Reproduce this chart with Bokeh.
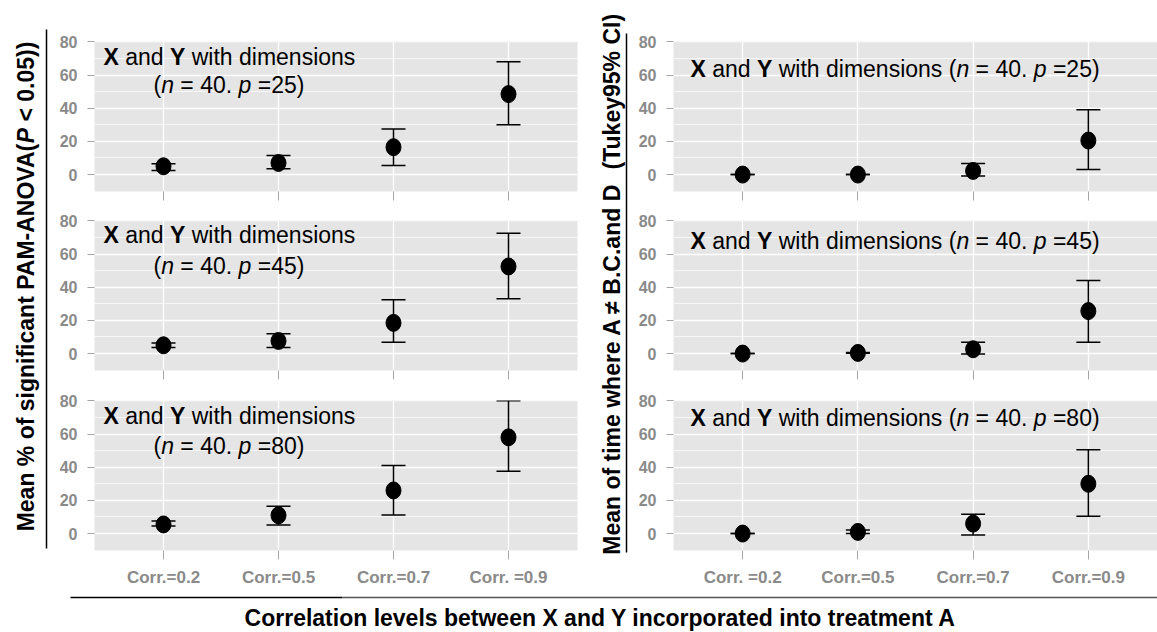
import math
from bokeh.plotting import figure
from bokeh.models import Range1d, FixedTicker, Label, ColumnDataSource, Whisker, TeeHead
from bokeh.layouts import row, column
from bokeh.core.properties import value
from bokeh.embed import file_html
from bokeh.resources import INLINE

FONT = "Liberation Sans"

# ---- data -------------------------------------------------------------
positions = [1, 2, 3, 4]
corr_left = ["Corr.=0.2", "Corr.=0.5", "Corr.=0.7", "Corr. =0.9"]
corr_right = ["Corr. =0.2", "Corr.=0.5", "Corr.=0.7", "Corr.=0.9"]
dims = ["25", "45", "80"]

# a) mean % of significant PAM-ANOVA, with 95% interval
pam_mean_p25 = [5.0, 7.0, 16.5, 48.5]
pam_low_p25 = [2.5, 3.5, 5.5, 30.0]
pam_high_p25 = [6.5, 11.5, 27.5, 68.0]

pam_mean_p45 = [5.0, 7.6, 18.5, 52.5]
pam_low_p45 = [3.6, 3.6, 6.8, 33.0]
pam_high_p45 = [6.4, 12.0, 32.4, 72.5]

pam_mean_p80 = [5.5, 11.0, 26.0, 58.0]
pam_low_p80 = [4.6, 5.2, 11.2, 37.5]
pam_high_p80 = [7.6, 16.5, 41.0, 80.0]

# b) mean of time where A differs from B, C and D (Tukey 95% CI)
tuk_mean_p25 = [0.0, 0.0, 2.2, 20.5]
tuk_low_p25 = [0.0, 0.0, -0.8, 3.0]
tuk_high_p25 = [0.0, 0.0, 6.6, 39.0]

tuk_mean_p45 = [0.0, 0.4, 2.6, 25.6]
tuk_low_p45 = [0.0, 0.2, -0.3, 6.8]
tuk_high_p45 = [0.0, 0.6, 6.8, 44.0]

tuk_mean_p80 = [0.0, 1.0, 6.0, 30.0]
tuk_low_p80 = [0.0, 0.0, -0.8, 10.5]
tuk_high_p80 = [0.0, 2.2, 11.7, 50.5]

# ---- glyph advance widths (Arial metrics, em units) -------------------
REG = {' ': .278, 'a': .556, 'n': .556, 'd': .556, 'w': .722, 'i': .222, 't': .278,
       'h': .556, 'm': .833, 'e': .556, 's': .5, 'o': .556, '(': .333, ')': .333,
       '=': .584, '.': .278, 'X': .667, 'Y': .667, 'p': .556}
BOLD = {' ': .278, 'a': .556, 'b': .611, 'c': .556, 'd': .611, 'e': .556, 'f': .333,
        'g': .611, 'h': .611, 'i': .278, 'k': .556, 'l': .278, 'm': .889, 'n': .611,
        'o': .611, 'p': .611, 'r': .389, 's': .556, 't': .333, 'u': .611, 'v': .556,
        'w': .778, 'y': .556, 'A': .722, 'B': .722, 'C': .722, 'D': .722, 'I': .278,
        'M': .833, 'N': .722, 'O': .778, 'P': .667, 'T': .611, 'V': .667, 'X': .667,
        'Y': .667, '%': .889, '(': .333, ')': .333, '-': .333, '.': .278, '<': .584,
        '\u2260': .584, '=': .584}


def run_layout(segs, size):
    """Split styled text into runs with pixel offsets along the text direction."""
    out, pos = [], 0.0
    for txt, weight, style, *nudge in segs:
        tbl = BOLD if weight == "bold" else REG
        lead = len(txt) - len(txt.lstrip(' '))
        core = txt.strip(' ')
        shift = nudge[0] if nudge else 0
        if core:
            out.append((core, weight, style, pos + lead * tbl[' '] * size + shift))
        pos += sum(tbl.get(c, .556) for c in txt) * size + shift
    return out, pos


def annotate(p, x0, y, segs, size=23, start=0):
    runs, _ = run_layout(segs, size)
    for core, weight, style, off in runs:
        src = ColumnDataSource(dict(x=[x0], y=[y], t=[core], xo=[start + off]))
        p.text(x="x", y="y", text="t", x_offset="xo", source=src,
               text_font=value(FONT), text_font_size=value(f"{size}px"),
               text_font_style=value(style if weight != "bold" else "bold"),
               text_color="black", text_align="left", text_baseline="middle")


def dim_segments(d, one_line):
    head = [("X", "bold", "bold"), (" and ", "normal", "normal"),
            ("Y", "bold", "bold"), (" with dimensions", "normal", "normal")]
    tail = [("(", "normal", "normal"), ("n", "normal", "italic"),
            (" = 40. ", "normal", "normal"), ("p", "normal", "italic"),
            (f" ={d})", "normal", "normal")]
    if one_line:
        return head + [(" ", "normal", "normal")] + tail, None
    return head, tail


def make_panel(width, height, top, bottom, left, right, means, lows, highs,
               tick_labels, show_labels):
    p = figure(width=width, height=height, x_range=Range1d(0.4, 4.6),
               y_range=Range1d(-10.2, 80.2), output_backend="svg",
               toolbar_location=None, min_border_top=top, min_border_bottom=bottom,
               min_border_left=left, min_border_right=right)
    p.background_fill_color = "#e5e5e5"
    p.border_fill_color = "white"
    p.outline_line_color = None

    yt = FixedTicker(ticks=[0, 20, 40, 60, 80], minor_ticks=[10, 30, 50, 70])
    yax = p.yaxis[0]
    yax.ticker = yt
    p.ygrid.ticker = yt
    yax.axis_line_color = None
    yax.major_tick_line_color = "#a6a6a6"
    yax.major_tick_out = 7
    yax.major_tick_in = 0
    yax.minor_tick_line_color = None
    yax.major_label_text_font = FONT
    yax.major_label_text_font_size = "16px"
    yax.major_label_text_font_style = "bold"
    yax.major_label_text_color = "#8a8a8a"
    yax.major_label_standoff = 10

    xax = p.xaxis[0]
    p.xgrid.ticker = FixedTicker(ticks=positions)
    xax.axis_line_color = None
    if show_labels:
        xax.ticker = FixedTicker(ticks=positions)
        xax.major_tick_line_color = "#a6a6a6"
        xax.major_tick_out = 9
        xax.major_tick_in = 0
        xax.minor_tick_line_color = None
        xax.major_label_overrides = {k: v for k, v in zip(positions, tick_labels)}
        xax.major_label_text_font = FONT
        xax.major_label_text_font_style = "bold"
        xax.major_label_text_color = "#8a8a8a"
        xax.major_label_text_font_size = "17px"
        xax.major_label_standoff = 8
    else:
        # tick marks only, no labels under the upper panels
        xax.ticker = FixedTicker(ticks=[], minor_ticks=positions)
        xax.minor_tick_line_color = "#a6a6a6"
        xax.minor_tick_out = 9
        xax.minor_tick_in = 0
        xax.major_tick_line_color = None

    p.xgrid.grid_line_color = "white"
    p.xgrid.grid_line_width = 1.3
    p.ygrid.grid_line_color = "white"
    p.ygrid.grid_line_width = 1.3
    p.ygrid.minor_grid_line_color = "white"
    p.ygrid.minor_grid_line_width = 0.7

    src = ColumnDataSource(dict(x=positions, m=means, lo=lows, hi=highs))
    head = dict(size=24, line_color="black", line_width=1.5)
    p.add_layout(Whisker(base="x", lower="lo", upper="hi", source=src,
                         dimension="height", line_color="black", line_width=1.5,
                         lower_head=TeeHead(**head), upper_head=TeeHead(**head)))
    p.ellipse(x="x", y="m", width=15, height=17, width_units="screen",
              height_units="screen", color="black", source=src)
    return p


# ---- panels -----------------------------------------------------------
borders = [(205, 41, 14), (180, 15, 15), (205, 15, 40)]
left_data = [(pam_mean_p25, pam_low_p25, pam_high_p25),
             (pam_mean_p45, pam_low_p45, pam_high_p45),
             (pam_mean_p80, pam_low_p80, pam_high_p80)]
right_data = [(tuk_mean_p25, tuk_low_p25, tuk_high_p25),
              (tuk_mean_p45, tuk_low_p45, tuk_high_p45),
              (tuk_mean_p80, tuk_low_p80, tuk_high_p80)]
left_text_y = [(70.6, 53.7), (71.2, 52.5), (71.0, 53.0)]
right_text_y = [63.9, 68.1, 69.4]

left_panels, right_panels = [], []
for i in range(3):
    h, top, bottom = borders[i]
    last = i == 2
    m, lo, hi = left_data[i]
    pl = make_panel(540, h, top, bottom, 44, 13, m, lo, hi, corr_left, last)
    l1, l2 = dim_segments(dims[i], False)
    annotate(pl, 0.4, left_text_y[i][0], l1, start=9)
    annotate(pl, 0.4, left_text_y[i][1], l2, start=59)
    left_panels.append(pl)

    m, lo, hi = right_data[i]
    pr = make_panel(527, h, top, bottom, 43, 0, m, lo, hi, corr_right, last)
    one, _ = dim_segments(dims[i], True)
    annotate(pr, 0.4, right_text_y[i], one, start=17)
    right_panels.append(pr)

for p, tag in ((left_panels[0], "a)"), (right_panels[0], "b)")):
    p.add_layout(Label(x=0.4, y=80.2, x_offset=10, y_offset=19, text=tag,
                       text_font=FONT, text_font_size="22px", text_font_style="bold",
                       text_color="black", text_align="left", text_baseline="middle"))


# ---- side titles ------------------------------------------------------
def side_figure(width, height):
    p = figure(width=width, height=height, x_range=Range1d(0, width),
               y_range=Range1d(0, height), x_axis_type=None, y_axis_type=None,
               output_backend="svg", toolbar_location=None, min_border=0)
    p.outline_line_color = None
    p.grid.visible = False
    p.border_fill_color = "white"
    p.background_fill_color = "white"
    return p


def vertical_title(p, x, yc, segs, size=23):
    runs, total = run_layout(segs, size)
    y0 = yc - total / 2
    for core, weight, style, off in runs:
        p.add_layout(Label(x=x, y=y0 + off, text=core, angle=math.pi / 2,
                           text_font=FONT, text_font_size=f"{size}px",
                           text_font_style="bold italic" if style == "italic" else "bold",
                           text_color="black", text_align="left",
                           text_baseline="middle"))


lab_left = side_figure(50, 590)
vertical_title(lab_left, 25, 590 - 286,
               [("Mean % of significant PAM-ANOVA(", "bold", "normal"),
                ("P", "bold", "italic", -3), (" < 0.05))", "bold", "normal")])
lab_left.segment(x0=[46], y0=[590 - 29], x1=[46], y1=[590 - 548],
                 line_color="black", line_width=1.5)

lab_right = side_figure(40, 590)
vertical_title(lab_right, 21, 590 - 283,
               [("Mean of time where A \u2260 B.C.and D", "bold", "normal"),
                ("  (Tukey95% CI)", "bold", "normal")])
lab_right.segment(x0=[36], y0=[590 - 33], x1=[36], y1=[590 - 552],
                  line_color="black", line_width=1.5)

bottom = side_figure(1157, 42)
bottom.segment(x0=[70], y0=[35], x1=[342], y1=[35], line_color="black", line_width=1.5)
bottom.segment(x0=[342], y0=[35], x1=[1157], y1=[35], line_color="#555555", line_width=1.5)
bottom.add_layout(Label(x=600, y=15,
                        text="Correlation levels between X and Y incorporated into treatment A",
                        text_font=FONT, text_font_size="23px", text_font_style="bold",
                        text_color="black", text_align="center", text_baseline="middle"))

layout = column(
    row(lab_left, column(*left_panels, spacing=0), lab_right,
        column(*right_panels, spacing=0), spacing=0),
    bottom, spacing=0)

open("out.html", "w").write(file_html(layout, INLINE))
